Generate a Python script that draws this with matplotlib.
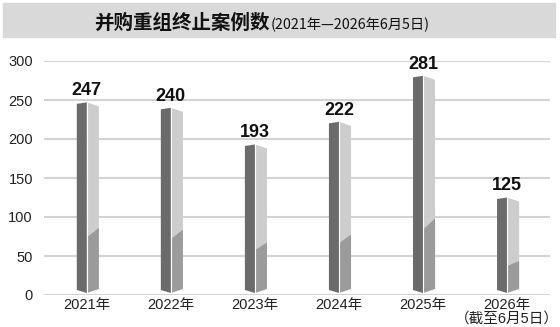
import matplotlib.pyplot as plt
from matplotlib.patches import Polygon, Rectangle

# 数据
years = ['2021年', '2022年', '2023年', '2024年', '2025年', '2026年\n（截至6月5日）']
counts = [247, 240, 193, 222, 281, 125]

plt.rcParams['font.family'] = ['Liberation Sans', 'Noto Sans CJK SC', 'DejaVu Sans']

fig = plt.figure(figsize=(5.6, 3.27), dpi=100)
fig.patch.set_facecolor('white')

# 标题底色
fig.patches.append(Rectangle((3 / 560, 1 - 37 / 327), 552 / 560, 34 / 327,
                             transform=fig.transFigure, color='#d9d9d9', zorder=0))
fig.text(270 / 560, 1 - 29 / 327, '并购重组终止案例数', ha='right', va='baseline',
         fontsize=14, fontweight='bold', family=['Noto Sans CJK SC', 'DejaVu Sans'],
         color='#111111')
fig.text(271 / 560, 1 - 29 / 327, '(2021年—2026年6月5日)', ha='left', va='baseline',
         fontsize=10.3, family=['Noto Sans CJK SC', 'DejaVu Sans'], color='#111111')

ax = fig.add_axes([44 / 560, 1 - 295 / 327, 506 / 560, 234 / 327])
ax.set_xlim(-0.51, 5.51)
ax.set_ylim(0, 300)
ax.set_yticks(range(0, 301, 50))
ax.yaxis.grid(True, color='#d3d3d3', lw=1.5)
ax.set_axisbelow(True)
for s in ax.spines.values():
    s.set_visible(False)
ax.tick_params(axis='both', length=0, labelsize=10.5, colors='#222222')
ax.tick_params(axis='y', pad=8)
ax.set_xticks(range(len(years)))
ax.set_xticklabels(years, linespacing=0.95)
ax.tick_params(axis='x', pad=2)

px = 1 / 84          # 横向一个像素
py = 300 / 234       # 纵向一个像素
wl, wr = 0.12, 0.143

for i, v in enumerate(counts):
    c = i
    # 左侧暗面
    ax.add_patch(Polygon([(c - wl, v - 1.5 * py), (c, v), (c, 2 * py), (c - wl, 5 * py)],
                         closed=True, color='#6b6b6b', lw=0, clip_on=False, zorder=3))
    # 右侧亮面
    ax.add_patch(Polygon([(c, v), (c + wr, v - 4 * py), (c + wr, 0.35 * v), (c, 0.30 * v)],
                         closed=True, color='#cdcdcd', lw=0, clip_on=False, zorder=3))
    # 右侧下部
    ax.add_patch(Polygon([(c, 0.30 * v), (c + wr, 0.35 * v), (c + wr, 6 * py), (c, 2 * py)],
                         closed=True, color='#9b9b9b', lw=0, clip_on=False, zorder=3))
    ax.plot([c, c], [2 * py, v], color='white', lw=0.8, zorder=4, clip_on=False)
    ax.text(c, v + 3 * py, str(v), ha='center', va='bottom', fontsize=13,
            fontweight='bold', color='#111111', clip_on=False)

fig.savefig('out.png', dpi=100)
